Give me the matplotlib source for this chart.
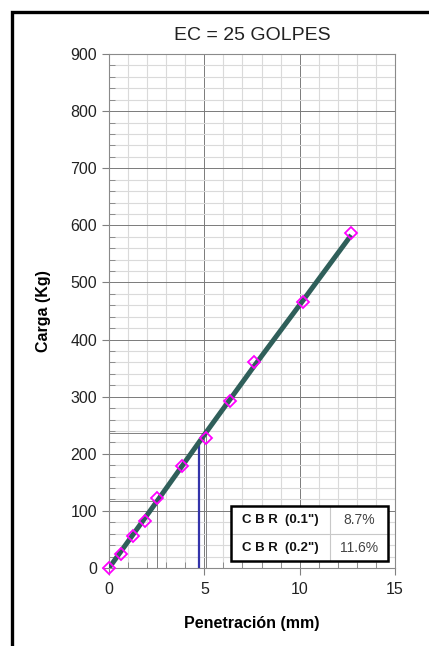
import numpy as np
import matplotlib
matplotlib.use('Agg')
import matplotlib.pyplot as plt
from matplotlib.patches import Rectangle
from matplotlib.ticker import MultipleLocator

plt.rcParams['font.family'] = ['Liberation Sans', 'DejaVu Sans']

# lecturas del ensayo (penetracion mm, carga kg)
pen = [0, 0.64, 1.27, 1.91, 2.54, 3.81, 5.08, 6.35, 7.62, 10.16, 12.7]
carga = [0, 24, 56, 83, 122, 178, 227, 293, 361, 466, 586]

# curva ajustada
curva_x = [0, 2.54, 5.08, 7.62, 10.16, 12.7]
curva_y = [0, 118, 237, 354, 468, 583]

# lineas de referencia CBR
ref_x = [2.54, 5.08]
ref_y = [118, 237]
corr_x = 4.72
corr_y = 213

etiquetas = ['C B R  (0.1")', 'C B R  (0.2")']
valores = ['8.7%', '11.6%']

fig = plt.figure(figsize=(4.29, 6.46), dpi=100)
ax = fig.add_axes([0.254, 0.1207, 0.667, 0.7957])

ax.set_xlim(0, 15)
ax.set_ylim(0, 900)
ax.xaxis.set_major_locator(MultipleLocator(5))
ax.xaxis.set_minor_locator(MultipleLocator(1))
ax.yaxis.set_major_locator(MultipleLocator(100))
ax.yaxis.set_minor_locator(MultipleLocator(20))
ax.grid(which='minor', color='#dadada', lw=0.8)
ax.grid(which='major', color='#7a7a7a', lw=0.7)
ax.set_axisbelow(True)
ax.tick_params(which='major', direction='out', length=5, color='#808080',
               labelsize=11.5, labelcolor='#222222')
ax.tick_params(axis='x', which='major', pad=5)
ax.tick_params(which='minor', direction='in', length=4, color='#808080')
for s in ax.spines.values():
    s.set_color('#8a8a8a')
    s.set_linewidth(0.8)

for x, y in zip(ref_x, ref_y):
    ax.plot([0, x], [y, y], color='#808080', lw=0.7)
    ax.plot([x, x], [0, y], color='#808080', lw=0.7)
ax.plot([corr_x, corr_x], [0, corr_y], color='#3333aa', lw=1.6)

ax.plot(curva_x, curva_y, color='#2f5f5a', lw=3.6, solid_capstyle='butt', zorder=4)
ax.plot(pen, carga, linestyle='none', marker='D', ms=6.5, mfc='none',
        mec='#ff00ff', mew=1.3, clip_on=False, zorder=5)

ax.set_title('EC = 25 GOLPES', fontsize=14, color='#222222', pad=10)
ax.set_xlabel('Penetración (mm)', fontsize=11.5, fontweight='bold', labelpad=14)
ax.set_ylabel('Carga (Kg)', fontsize=11.5, fontweight='bold', labelpad=14)

# tabla de resultados
x0, y0, w, h = 0.427, 0.013, 0.547, 0.107
xs = x0 + 0.63 * w
ax.add_patch(Rectangle((x0, y0), w, h, transform=ax.transAxes,
                       fc='white', ec='none', zorder=9))
ax.plot([x0, x0 + w], [y0 + h / 2, y0 + h / 2], transform=ax.transAxes,
        color='#c8c8c8', lw=0.8, zorder=10)
ax.plot([xs, xs], [y0, y0 + h], transform=ax.transAxes,
        color='#c8c8c8', lw=0.8, zorder=10)
for i in range(2):
    yc = y0 + h * (0.75 - 0.5 * i)
    ax.text(x0 + 0.315 * w, yc, etiquetas[i], transform=ax.transAxes,
            ha='center', va='center', fontsize=9.5, fontweight='bold',
            color='#111111', zorder=11)
    ax.text(xs + 0.185 * w, yc, valores[i], transform=ax.transAxes,
            ha='center', va='center', fontsize=10, color='#444444', zorder=11)
ax.add_patch(Rectangle((x0, y0), w, h, transform=ax.transAxes,
                       fill=False, ec='black', lw=1.8, zorder=12))

# marco de la hoja
fig.add_artist(Rectangle((12 / 429, -0.1), 1.2, 1.1 - 12 / 646,
                         transform=fig.transFigure, fill=False, ec='black', lw=2.4))

fig.savefig('out.png', dpi=100)
